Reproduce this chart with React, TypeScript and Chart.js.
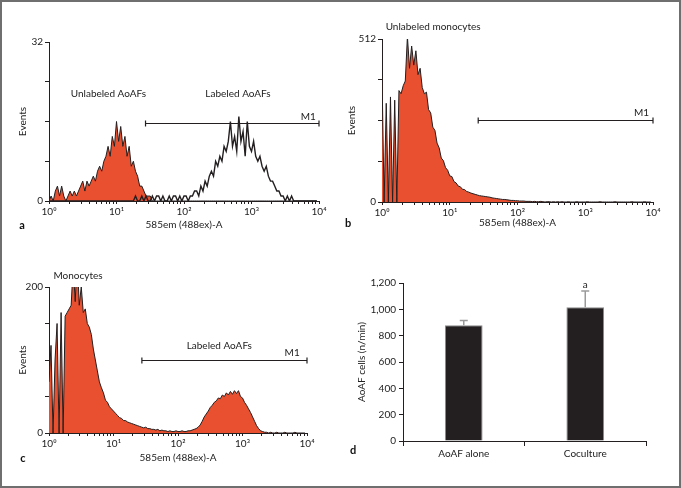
import React, { useEffect, useRef } from 'react';
import { Chart, registerables } from 'chart.js';

Chart.register(...registerables);

// ---------------- data ----------------
const BINS_PER_DECADE = 32;
const DECADE_LABELS = ['10\u2070', '10\u00b9', '10\u00b2', '10\u00b3', '10\u2074'];

// panel a: unlabeled AoAFs (red) and labeled AoAFs (outline)
const A_UNLABELED = [
  0, 1, 0, 2, 3, 1, 3, 1, 0, 1, 2, 1, 2, 1, 2, 3, 4, 2, 4, 3, 4, 5, 4, 6, 7, 6, 8, 9, 11, 9, 13, 11,
  16, 12, 15, 11, 13, 9, 11, 7, 8, 6, 5, 3, 3, 2, 1, 1, 1, 0, 0, 0, 0, 0, 0, 0, 0, 0, 0, 0, 0, 0, 0, 0,
  0, 0, 0, 0, 0, 0, 0, 0, 0, 0, 0, 0, 0, 0, 0, 0, 0, 0, 0, 0, 0, 0, 0, 0, 0, 0, 0, 0, 0, 0, 0, 0,
  0, 0, 0, 0, 0, 0, 0, 0, 0, 0, 0, 0, 0, 0, 0, 0, 0, 0, 0, 0, 0, 0, 0, 0, 0, 0, 0, 0, 0, 0, 0, 0,
];
const A_LABELED = [
  0, 0, 0, 0, 0, 0, 0, 0, 0, 0, 0, 0, 0, 0, 0, 0, 0, 0, 0, 0, 0, 0, 0, 0, 0, 0, 0, 0, 0, 0, 0, 0,
  0, 0, 0, 0, 0, 0, 0, 0, 0, 1, 0, 0, 1, 0, 1, 0, 0, 1, 0, 1, 1, 0, 1, 0, 0, 1, 0, 1, 1, 0, 1, 0,
  1, 1, 0, 1, 1, 2, 2, 1, 3, 2, 4, 3, 5, 6, 5, 8, 7, 9, 8, 11, 10, 12, 16, 11, 13, 10, 17, 12, 14, 9, 16, 11,
  10, 12, 9, 8, 9, 7, 6, 7, 5, 4, 4, 3, 2, 2, 1, 1, 0, 1, 0, 1, 0, 0, 0, 0, 0, 0, 0, 0, 0, 0, 0, 0,
];

// panel b: unlabeled monocytes
const B_MONOCYTES = [
  400, 0, 310, 0, 330, 0, 320, 0, 350, 340, 365, 380, 520, 420, 490, 430, 475, 400, 420, 360, 340, 345, 290, 280, 235, 225, 185, 170, 138, 130, 108, 100,
  82, 80, 64, 60, 50, 48, 40, 39, 33, 31, 28, 26, 24, 22, 20, 19, 18, 17, 16, 15, 13, 12, 11, 10, 9, 8, 8, 7, 6, 5, 5, 4,
  4, 3, 3, 3, 2, 2, 2, 1, 2, 1, 1, 2, 1, 0, 1, 1, 0, 1, 0, 1, 0, 1, 0, 0, 1, 0, 0, 0, 1, 0, 0, 0,
  0, 1, 0, 0, 0, 0, 0, 1, 0, 0, 0, 0, 0, 0, 1, 0, 0, 0, 0, 0, 0, 0, 1, 0, 0, 0, 0, 0, 1, 0, 0, 0,
];

// panel c: coculture (monocytes + labeled AoAFs)
const C_COCULTURE = [
  70, 120, 0, 100, 150, 0, 165, 0, 160, 165, 170, 175, 230, 180, 240, 175, 200, 165, 170, 150, 145, 135, 115, 100, 85, 70, 62, 55, 45, 42, 36, 33,
  30, 27, 24, 21, 20, 17, 17, 15, 14, 13, 12, 11, 10, 9, 8, 7, 8, 6, 6, 5, 5, 4, 5, 3, 4, 3, 3, 2, 3, 2, 2, 3,
  2, 2, 3, 2, 2, 3, 3, 4, 5, 6, 8, 11, 16, 22, 26, 30, 35, 38, 42, 44, 48, 47, 52, 50, 55, 52, 57, 53, 58, 54, 58, 50,
  48, 42, 38, 33, 28, 22, 16, 10, 6, 3, 2, 1, 1, 0, 1, 0, 0, 1, 0, 0, 0, 1, 0, 0, 0, 0, 1, 0, 0, 0, 0, 0,
];

// panel d: migration
const D_CATEGORIES = ['AoAF alone', 'Coculture'];
const D_VALUES = [880, 1015];
const D_ERRORS = [35, 125];
const D_TICKS = [0, 200, 400, 600, 800, 1000, 1200];

// ---------------- styles ----------------
const FONT = 'Lato, "Open Sans", "DejaVu Sans", sans-serif';
const RED = '#e9502f';
const INK = '#231f20';
const TXT = '#222222';

type Box = { left: number; top: number; width: number; height: number };
type Area = { left: number; top: number; right: number; bottom: number };
type Note = { text: string; x: number; y: number };
type Gate = { x0: number; x1: number; y: number };
type Letter = { text: string; px: number; py: number };

function layoutFor(box: Box, area: Area) {
  return {
    padding: {
      left: 0,
      top: area.top - box.top,
      right: box.left + box.width - area.right,
      bottom: 0,
    },
    yWidth: area.left - box.left,
    xHeight: box.top + box.height - area.bottom,
  };
}

function notesPlugin(notes: Note[], gates: Gate[], letters: Letter[], xKey = 'x') {
  return {
    id: 'panelNotes',
    afterDatasetsDraw(chart: any) {
      const ctx = chart.ctx;
      const xs = chart.scales[xKey];
      const ys = chart.scales.y;
      ctx.save();
      ctx.fillStyle = TXT;
      ctx.strokeStyle = INK;
      ctx.font = `10px ${FONT}`;
      ctx.textAlign = 'center';
      ctx.textBaseline = 'middle';
      for (const n of notes) {
        ctx.fillText(n.text, xs.getPixelForValue(n.x), ys.getPixelForValue(n.y));
      }
      ctx.lineWidth = 1.2;
      for (const g of gates) {
        const x0 = xs.getPixelForValue(g.x0);
        const x1 = xs.getPixelForValue(g.x1);
        const y = Math.round(ys.getPixelForValue(g.y)) + 0.5;
        ctx.beginPath();
        ctx.moveTo(x0, y);
        ctx.lineTo(x1, y);
        ctx.moveTo(x0, y - 3);
        ctx.lineTo(x0, y + 3);
        ctx.moveTo(x1, y - 3);
        ctx.lineTo(x1, y + 3);
        ctx.stroke();
      }
      ctx.font = `bold 11px ${FONT}`;
      ctx.fillStyle = '#111';
      for (const l of letters) {
        ctx.fillText(l.text, l.px, l.py);
      }
      ctx.restore();
    },
  };
}

type HistSeries = { values: number[]; fill: boolean };
type HistPanel = {
  box: Box;
  area: Area;
  yMax: number;
  series: HistSeries[];
  yTitleTop: number;
  xTitleBottom: number;
  notes: Note[];
  gates: Gate[];
  letters: Letter[];
};

function histConfig(p: HistPanel): any {
  const lay = layoutFor(p.box, p.area);
  const datasets = p.series.map((s) => ({
    data: s.values.map((v, i) => ({ x: i / BINS_PER_DECADE, y: v })),
    borderColor: INK,
    borderWidth: s.fill ? 1 : 1.4,
    backgroundColor: s.fill ? RED : 'rgba(0,0,0,0)',
    fill: s.fill ? 'origin' : false,
    pointRadius: 0,
    tension: 0,
  }));
  return {
    type: 'line',
    data: { datasets },
    options: {
      responsive: false,
      animation: false,
      events: [],
      layout: { padding: lay.padding },
      plugins: { legend: { display: false }, tooltip: { enabled: false } },
      scales: {
        x: {
          type: 'linear',
          min: 0,
          max: 4,
          afterBuildTicks: (s: any) => {
            const t: { value: number }[] = [];
            for (let d = 0; d < 4; d++) for (let m = 1; m < 10; m++) t.push({ value: d + Math.log10(m) });
            t.push({ value: 4 });
            s.ticks = t;
          },
          afterFit: (s: any) => {
            s.height = lay.xHeight;
          },
          ticks: {
            autoSkip: false,
            maxRotation: 0,
            minRotation: 0,
            padding: 2,
            color: TXT,
            font: { family: FONT, size: 10 },
            callback: (v: number) => (Number.isInteger(v) ? DECADE_LABELS[v] : ''),
          },
          grid: { drawOnChartArea: false, drawTicks: true, tickLength: 3, color: INK },
          border: { display: true, color: INK, width: 1 },
          title: {
            display: true,
            text: '585em (488ex)-A',
            color: TXT,
            font: { family: FONT, size: 10 },
            padding: { top: 0, bottom: p.xTitleBottom },
          },
        },
        y: {
          min: 0,
          max: p.yMax,
          afterBuildTicks: (s: any) => {
            s.ticks = [0, 1, 2, 3, 4].map((k) => ({ value: (k * p.yMax) / 4 }));
          },
          afterFit: (s: any) => {
            s.width = lay.yWidth;
          },
          ticks: {
            padding: 2,
            color: TXT,
            font: { family: FONT, size: 10 },
            callback: (v: number) => (v === 0 || v === p.yMax ? String(v) : ''),
          },
          grid: { drawOnChartArea: false, drawTicks: true, tickLength: 4, color: INK },
          border: { display: true, color: INK, width: 1 },
          title: {
            display: true,
            text: 'Events',
            color: TXT,
            font: { family: FONT, size: 10 },
            padding: { top: p.yTitleTop, bottom: 0 },
          },
        },
      },
    },
    plugins: [notesPlugin(p.notes, p.gates, p.letters)],
  };
}

const PANEL_A: HistPanel = {
  box: { left: 0, top: 0, width: 340, height: 240 },
  area: { left: 49, top: 42, right: 319, bottom: 201 },
  yMax: 32,
  series: [
    { values: A_LABELED, fill: false },
    { values: A_UNLABELED, fill: true },
  ],
  yTitleTop: 17,
  xTitleBottom: 9,
  notes: [
    { text: 'Unlabeled AoAFs', x: 0.88, y: 21.5 },
    { text: 'Labeled AoAFs', x: 2.8, y: 21.5 },
    { text: 'M1', x: 3.84, y: 16.9 },
  ],
  gates: [{ x0: 1.43, x1: 4, y: 15.6 }],
  letters: [{ text: 'a', px: 22, py: 225 }],
};

const PANEL_B: HistPanel = {
  box: { left: 340, top: 0, width: 341, height: 240 },
  area: { left: 382, top: 39, right: 653, bottom: 202 },
  yMax: 512,
  series: [{ values: B_MONOCYTES, fill: true }],
  yTitleTop: 6,
  xTitleBottom: 11,
  notes: [
    { text: 'Unlabeled monocytes', x: 0.755, y: 551 },
    { text: 'M1', x: 3.83, y: 280 },
  ],
  gates: [{ x0: 1.42, x1: 4, y: 257 }],
  letters: [{ text: 'b', px: 8, py: 223 }],
};

const PANEL_C: HistPanel = {
  box: { left: 0, top: 240, width: 340, height: 248 },
  area: { left: 49, top: 287, right: 307, bottom: 433 },
  yMax: 200,
  series: [{ values: C_COCULTURE, fill: true }],
  yTitleTop: 17,
  xTitleBottom: 24,
  notes: [
    { text: 'Monocytes', x: 0.45, y: 216 },
    { text: 'Labeled AoAFs', x: 2.64, y: 120 },
    { text: 'M1', x: 3.77, y: 110 },
  ],
  gates: [{ x0: 1.44, x1: 4, y: 100 }],
  letters: [{ text: 'c', px: 23, py: 218 }],
};

const BOX_D: Box = { left: 340, top: 240, width: 341, height: 248 };
const AREA_D: Area = { left: 403, top: 283, right: 646, bottom: 441 };

function barConfig(): any {
  const lay = layoutFor(BOX_D, AREA_D);
  const errorBars = {
    id: 'errorBars',
    afterDatasetsDraw(chart: any) {
      const ctx = chart.ctx;
      const meta = chart.getDatasetMeta(0);
      const ys = chart.scales.y;
      ctx.save();
      ctx.strokeStyle = '#9a9a9a';
      ctx.lineWidth = 1.5;
      D_VALUES.forEach((v, i) => {
        const x = meta.data[i].x;
        const yb = ys.getPixelForValue(v);
        const yt = ys.getPixelForValue(v + D_ERRORS[i]);
        ctx.beginPath();
        ctx.moveTo(x, yb);
        ctx.lineTo(x, yt);
        ctx.moveTo(x - 4, yt);
        ctx.lineTo(x + 4, yt);
        ctx.stroke();
      });
      ctx.restore();
    },
  };
  return {
    type: 'bar',
    data: {
      labels: D_CATEGORIES,
      datasets: [
        {
          data: D_VALUES,
          backgroundColor: INK,
          borderColor: '#8a8a8a',
          borderWidth: 1,
          barPercentage: 0.31,
          categoryPercentage: 1,
        },
      ],
    },
    options: {
      responsive: false,
      animation: false,
      events: [],
      layout: { padding: lay.padding },
      plugins: { legend: { display: false }, tooltip: { enabled: false } },
      scales: {
        x: {
          afterFit: (s: any) => {
            s.height = lay.xHeight;
          },
          ticks: { padding: 2, color: TXT, font: { family: FONT, size: 10 } },
          grid: { offset: true, drawOnChartArea: false, drawTicks: true, tickLength: 5, color: INK },
          border: { display: true, color: INK, width: 1 },
        },
        y: {
          min: 0,
          max: 1200,
          afterBuildTicks: (s: any) => {
            s.ticks = D_TICKS.map((v) => ({ value: v }));
          },
          afterFit: (s: any) => {
            s.width = lay.yWidth;
          },
          ticks: {
            padding: 3,
            color: TXT,
            font: { family: FONT, size: 10 },
            callback: (v: number) => v.toLocaleString('en-US'),
          },
          grid: { drawOnChartArea: false, drawTicks: true, tickLength: 4, color: INK },
          border: { display: true, color: INK, width: 1 },
          title: {
            display: true,
            text: 'AoAF cells (n/min)',
            color: TXT,
            font: { family: FONT, size: 10 },
            padding: { top: 15.7, bottom: 0 },
          },
        },
      },
    },
    plugins: [
      errorBars,
      notesPlugin([{ text: 'a', x: 1, y: 1187 }], [], [{ text: 'd', px: 13, py: 210 }]),
    ],
  };
}

function ChartCanvas({ box, make }: { box: Box; make: () => any }) {
  const ref = useRef<HTMLCanvasElement>(null);
  useEffect(() => {
    const chart = new Chart(ref.current as HTMLCanvasElement, make());
    return () => chart.destroy();
  }, []);
  return (
    <canvas
      ref={ref}
      width={box.width}
      height={box.height}
      style={{ position: 'absolute', left: box.left, top: box.top, width: box.width, height: box.height }}
    />
  );
}

export default function App() {
  return (
    <div style={{ position: 'absolute', left: 0, top: 0, width: 681, height: 488, background: '#fff', overflow: 'hidden' }}>
      <ChartCanvas box={PANEL_A.box} make={() => histConfig(PANEL_A)} />
      <ChartCanvas box={PANEL_B.box} make={() => histConfig(PANEL_B)} />
      <ChartCanvas box={PANEL_C.box} make={() => histConfig(PANEL_C)} />
      <ChartCanvas box={BOX_D} make={barConfig} />
      <div
        style={{
          position: 'absolute',
          left: 0,
          top: 0,
          width: 681,
          height: 488,
          boxSizing: 'border-box',
          border: '2px solid #6f6f6f',
          pointerEvents: 'none',
        }}
      />
    </div>
  );
}
